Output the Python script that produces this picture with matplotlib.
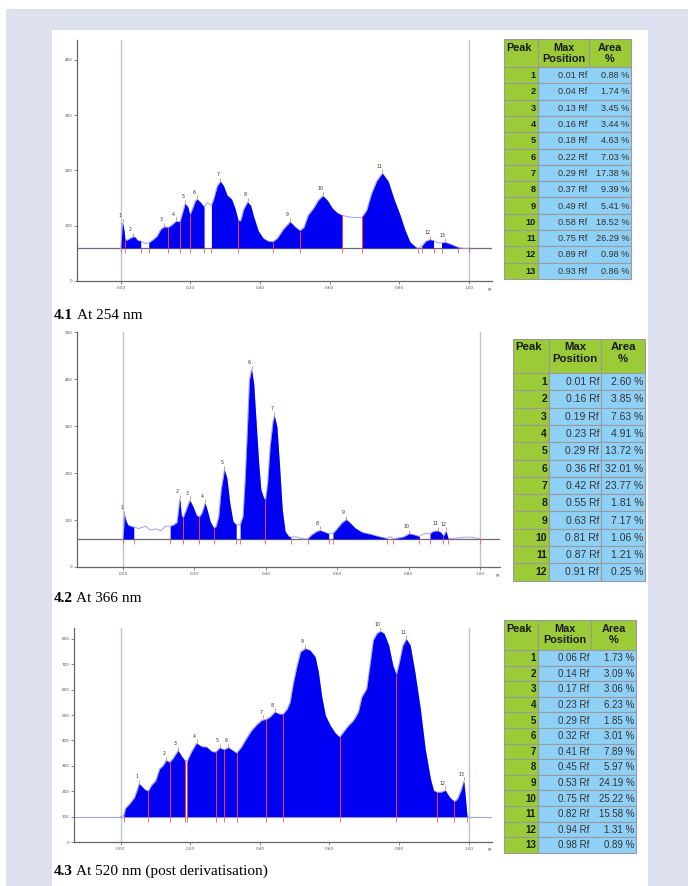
import numpy as np
import matplotlib
matplotlib.use("Agg")
import matplotlib.pyplot as plt
from matplotlib.patches import Rectangle

# ---------------- Chart 4.1 : 254 nm ----------------
rf_254 = [0.000, 0.003, 0.005, 0.009, 0.012, 0.018, 0.026, 0.035, 0.041, 0.047,
          0.057, 0.069, 0.080, 0.093, 0.104, 0.114, 0.124, 0.136, 0.146, 0.158,
          0.170, 0.177, 0.185, 0.193, 0.198, 0.206, 0.214, 0.219, 0.229, 0.239,
          0.248, 0.260, 0.267, 0.277, 0.286, 0.295, 0.305, 0.318, 0.328, 0.337,
          0.344, 0.353, 0.364, 0.373, 0.382, 0.395, 0.409, 0.423, 0.436, 0.449,
          0.466, 0.486, 0.500, 0.514, 0.526, 0.538, 0.555, 0.567, 0.580, 0.593,
          0.608, 0.622, 0.635, 0.653, 0.672, 0.692, 0.706, 0.720, 0.735, 0.751,
          0.768, 0.784, 0.802, 0.816, 0.830, 0.845, 0.854, 0.864, 0.876, 0.888,
          0.898, 0.909, 0.921, 0.931, 0.945, 0.960, 0.969, 0.984, 1.000]
au_254 = [59, 92, 105, 92, 74, 74, 77, 80, 79, 74,
          72, 68, 69, 75, 81, 93, 98, 97, 101, 108,
          107, 123, 140, 133, 119, 131, 145, 148, 142, 134,
          142, 137, 149, 172, 180, 172, 155, 148, 131, 109,
          109, 130, 143, 136, 115, 90, 77, 72, 71, 77,
          93, 107, 98, 91, 97, 119, 133, 146, 154, 146,
          131, 123, 119, 116, 115, 115, 128, 158, 181, 195,
          180, 149, 119, 92, 71, 62, 59, 63, 72, 75,
          73, 69, 69, 70, 67, 63, 61, 59, 59]
regions_254 = [(0.000, 0.057), (0.080, 0.239), (0.260, 0.635), (0.692, 0.854),
               (0.864, 0.898), (0.921, 0.969)]
ticks_254 = [0.000, 0.012, 0.057, 0.080, 0.136, 0.170, 0.198, 0.239, 0.260, 0.337,
             0.436, 0.514, 0.635, 0.692, 0.854, 0.864, 0.898, 0.921, 0.969, 1.000]
splits_254 = [0.012, 0.136, 0.170, 0.198, 0.337, 0.436, 0.514, 0.635, 0.692]
peak_rf_254 = [0.005, 0.035, 0.124, 0.158, 0.185, 0.219, 0.286, 0.364, 0.486, 0.580,
               0.751, 0.888, 0.931]
peak_au_254 = [105, 80, 98, 108, 140, 148, 180, 143, 107, 154, 195, 75, 70]
tab_pos_254 = [0.01, 0.04, 0.13, 0.16, 0.18, 0.22, 0.29, 0.37, 0.49, 0.58, 0.75, 0.89, 0.93]
tab_area_254 = [0.88, 1.74, 3.45, 3.44, 4.63, 7.03, 17.38, 9.39, 5.41, 18.52, 26.29, 0.98, 0.86]

# ---------------- Chart 4.2 : 366 nm ----------------
rf_366 = [0.000, 0.004, 0.007, 0.013, 0.021, 0.030, 0.044, 0.063, 0.076, 0.093,
          0.106, 0.118, 0.132, 0.142, 0.151, 0.159, 0.163, 0.168, 0.177, 0.187,
          0.196, 0.205, 0.213, 0.221, 0.230, 0.237, 0.244, 0.254, 0.261, 0.268,
          0.275, 0.284, 0.291, 0.299, 0.308, 0.317, 0.322, 0.328, 0.336, 0.342,
          0.349, 0.354, 0.360, 0.366, 0.373, 0.380, 0.386, 0.394, 0.399, 0.405,
          0.412, 0.420, 0.424, 0.431, 0.438, 0.446, 0.454, 0.464, 0.470, 0.487,
          0.506, 0.517, 0.529, 0.543, 0.552, 0.566, 0.576, 0.582, 0.588, 0.599,
          0.613, 0.625, 0.636, 0.650, 0.669, 0.692, 0.716, 0.739, 0.748, 0.757,
          0.771, 0.785, 0.802, 0.818, 0.830, 0.838, 0.851, 0.860, 0.869, 0.881,
          0.890, 0.897, 0.905, 0.911, 0.935, 0.972, 1.000]
au_366 = [60, 111, 101, 90, 87, 85, 82, 87, 79, 81,
          77, 87, 87, 90, 95, 145, 111, 104, 122, 142,
          129, 111, 106, 115, 136, 118, 97, 83, 87, 108,
          165, 207, 189, 136, 97, 90, 90, 90, 108, 186,
          306, 399, 421, 391, 306, 221, 165, 147, 143, 179,
          257, 310, 322, 299, 221, 122, 76, 65, 64, 64,
          60, 60, 69, 76, 78, 74, 71, 72, 72, 81,
          94, 101, 94, 83, 74, 70, 65, 61, 65, 60,
          62, 64, 71, 68, 65, 69, 72, 71, 76, 77,
          74, 66, 76, 60, 62, 64, 60]
regions_366 = [(0.000, 0.030), (0.132, 0.317), (0.328, 0.470), (0.517, 0.576),
               (0.588, 0.739), (0.757, 0.830), (0.860, 0.911)]
ticks_366 = [0.000, 0.030, 0.132, 0.168, 0.213, 0.254, 0.317, 0.328, 0.399, 0.470,
             0.517, 0.576, 0.588, 0.739, 0.757, 0.830, 0.860, 0.897, 0.911, 1.000]
splits_366 = [0.168, 0.213, 0.254, 0.399, 0.897]
peak_rf_366 = [0.004, 0.159, 0.187, 0.230, 0.284, 0.360, 0.424, 0.552, 0.625, 0.802,
               0.881, 0.905]
peak_au_366 = [111, 145, 142, 136, 207, 421, 322, 78, 101, 71, 77, 76]
tab_pos_366 = [0.01, 0.16, 0.19, 0.23, 0.29, 0.36, 0.42, 0.55, 0.63, 0.81, 0.87, 0.91]
tab_area_366 = [2.60, 3.85, 7.63, 4.91, 13.72, 32.01, 23.77, 1.81, 7.17, 1.06, 1.21, 0.25]

# ---------------- Chart 4.3 : 520 nm ----------------
rf_520 = [0.000, 0.009, 0.014, 0.026, 0.040, 0.047, 0.053, 0.060, 0.069, 0.079,
          0.088, 0.101, 0.112, 0.122, 0.131, 0.141, 0.151, 0.165, 0.175, 0.184,
          0.192, 0.203, 0.218, 0.232, 0.247, 0.261, 0.273, 0.285, 0.297, 0.309,
          0.319, 0.333, 0.347, 0.362, 0.376, 0.391, 0.406, 0.418, 0.429, 0.443,
          0.456, 0.467, 0.479, 0.487, 0.496, 0.506, 0.517, 0.530, 0.544, 0.559,
          0.568, 0.578, 0.588, 0.602, 0.616, 0.629, 0.640, 0.655, 0.669, 0.683,
          0.693, 0.707, 0.717, 0.726, 0.736, 0.746, 0.757, 0.770, 0.782, 0.792,
          0.801, 0.811, 0.821, 0.832, 0.846, 0.861, 0.875, 0.890, 0.899, 0.909,
          0.920, 0.933, 0.945, 0.959, 0.968, 0.978, 0.986, 0.990, 0.995, 1.000]
au_520 = [100, 104, 133, 150, 176, 203, 229, 220, 207, 200,
          222, 242, 288, 301, 321, 314, 330, 360, 338, 321,
          321, 354, 389, 376, 374, 357, 354, 371, 363, 372,
          363, 350, 374, 409, 439, 462, 480, 483, 492, 512,
          504, 504, 525, 551, 624, 689, 749, 762, 755, 729,
          670, 571, 499, 459, 430, 413, 433, 459, 479, 512,
          571, 604, 703, 795, 821, 830, 821, 775, 696, 657,
          709, 775, 799, 775, 664, 525, 367, 249, 203, 196,
          196, 203, 176, 159, 170, 203, 239, 183, 104, 100]
regions_520 = [(0.009, 0.184), (0.192, 0.995)]
ticks_520 = [0.009, 0.079, 0.141, 0.184, 0.192, 0.273, 0.297, 0.333, 0.418, 0.467,
             0.629, 0.792, 0.909, 0.959, 0.995]
splits_520 = [0.079, 0.141, 0.184, 0.192, 0.273, 0.297, 0.333, 0.418, 0.467,
              0.629, 0.792, 0.909, 0.959]
peak_rf_520 = [0.053, 0.131, 0.165, 0.218, 0.285, 0.309, 0.410, 0.443, 0.530, 0.746,
               0.821, 0.933, 0.986]
peak_au_520 = [229, 321, 360, 389, 371, 372, 483, 512, 762, 830, 799, 203, 239]
tab_pos_520 = [0.06, 0.14, 0.17, 0.23, 0.29, 0.32, 0.41, 0.45, 0.53, 0.75, 0.82, 0.94, 0.98]
tab_area_520 = [1.73, 3.09, 3.06, 6.23, 1.85, 3.01, 7.89, 5.97, 24.19, 25.22, 15.58, 1.31, 0.89]

x_ticks = [0.0, 0.2, 0.4, 0.6, 0.8, 1.0]
x_ticklabels = ["0.00", "0.20", "0.40", "0.60", "0.80", "1.00"]

captions = [("4.1", "At 254 nm"), ("4.2", "At 366 nm"), ("4.3", "At 520 nm (post derivatisation)")]

# ---------------- figure ----------------
W, H = 688, 886
fig = plt.figure(figsize=(W / 100, H / 100), dpi=100)
fig.patch.set_facecolor("white")
bg = fig.add_axes([0, 0, 1, 1])
bg.set_xlim(0, W)
bg.set_ylim(H, 0)
bg.axis("off")
bg.set_zorder(0)
bg.add_patch(Rectangle((6, 9), W - 6, H - 9, facecolor="#dde1ef", edgecolor="none"))
bg.add_patch(Rectangle((52, 30), 596, H - 30, facecolor="white", edgecolor="none"))


def px_rect(l, t, r, b):
    return [l / W, 1 - b / H, (r - l) / W, (b - t) / H]


def chart(box, xlim, ylim, yticks, rf, au, base, regions, ticks_b, splits,
          pk_rf, pk_au, base_color):
    ax = fig.add_axes(px_rect(*box))
    ax.set_zorder(1)
    ax.set_facecolor("none")
    ax.set_xlim(*xlim)
    ax.set_ylim(*ylim)
    rf = np.asarray(rf, float)
    au = np.asarray(au, float)
    upp = (ylim[1] - ylim[0]) / (box[3] - box[1])
    xupp = (xlim[1] - xlim[0]) / (box[2] - box[0])
    ax.axvline(0, color="#b8c8d4", lw=1.0, zorder=1)
    ax.axvline(1, color="#b8c8d4", lw=1.0, zorder=1)
    ax.axhline(base, color=base_color, lw=0.9, zorder=2)
    ax.plot(rf, au, color="#a0a0ee", lw=0.7, zorder=3)
    for a, b in regions:
        m = (rf >= a - 1e-9) & (rf <= b + 1e-9)
        ax.fill_between(rf[m], base, au[m], color="#0000f2", lw=0, zorder=4)
    sp = np.asarray(splits, float)
    ax.vlines(sp, base, np.interp(sp, rf, au), color="#ff3a3a", lw=0.7, zorder=5)
    ax.vlines(ticks_b, base - 5 * upp, base, color="#ff5a5a", lw=0.6, zorder=5)
    pr = np.asarray(pk_rf, float)
    pa = np.asarray(pk_au, float)
    ax.vlines(pr, pa + 1 * upp, pa + 4 * upp, color="#ff6a6a", lw=0.6, zorder=5)
    for i, (x, y) in enumerate(zip(pr, pa)):
        ax.text(x - 2.5 * xupp, y + 4.5 * upp, str(i + 1), fontsize=3.4, ha="center",
                va="bottom", color="#333333", zorder=6)
    for s in ["top", "right"]:
        ax.spines[s].set_visible(False)
    for s in ["left", "bottom"]:
        ax.spines[s].set_color("#666666")
        ax.spines[s].set_linewidth(0.9)
    ax.set_xticks(x_ticks)
    ax.set_xticklabels(x_ticklabels)
    ax.set_yticks(yticks)
    ax.set_yticklabels([str(v) for v in yticks])
    ax.tick_params(length=2, width=0.5, labelsize=3, colors="#555555", pad=1.5)
    ax.text(0.995, -0.03, "Rf", transform=ax.transAxes, fontsize=3, color="#555555",
            ha="center", va="top")
    return ax


chart((77, 40, 492, 281), (-0.126, 1.066), (0, 436), [0, 100, 200, 300, 400],
      rf_254, au_254, 60, regions_254, ticks_254, splits_254, peak_rf_254, peak_au_254,
      "#6a6a78")
chart((77, 332, 500, 567), (-0.129, 1.056), (0, 501), [0, 100, 200, 300, 400, 500],
      rf_366, au_366, 60, regions_366, ticks_366, splits_366, peak_rf_366, peak_au_366,
      "#6a6a78")
chart((74, 628, 492, 842), (-0.134, 1.067), (0, 843),
      [0, 100, 200, 300, 400, 500, 600, 700, 800],
      rf_520, au_520, 100, regions_520, ticks_520, splits_520, peak_rf_520, peak_au_520,
      "#a8a8dc")


def table(cols, top, hdr_bot, row_h, pos, area, fs_val, fs_hdr, midline=False):
    green = "#9bcb36"
    blue = "#8fd0f7"
    edge = "#9a9a9a"
    for j in range(3):
        bg.add_patch(Rectangle((cols[j], top), cols[j + 1] - cols[j], hdr_bot - top,
                               facecolor=green, edgecolor=edge, lw=0.8))
    bg.text(cols[0] + 2.5, top + 3.5, "Peak", fontfamily="Liberation Sans", fontweight="bold",
            fontsize=fs_hdr, va="top", ha="left", color="#1a1a1a")
    bg.text((cols[1] + cols[2]) / 2, top + 3.5, "Max\nPosition", fontfamily="Liberation Sans",
            fontweight="bold", fontsize=fs_hdr, va="top", ha="center", linespacing=1.2,
            color="#1a1a1a")
    bg.text((cols[2] + cols[3]) / 2, top + 3.5, "Area\n%", fontfamily="Liberation Sans",
            fontweight="bold", fontsize=fs_hdr, va="top", ha="center", linespacing=1.2,
            color="#1a1a1a")
    for i, (p, a) in enumerate(zip(pos, area)):
        y0 = hdr_bot + i * row_h
        bg.add_patch(Rectangle((cols[0], y0), cols[1] - cols[0], row_h, facecolor=green,
                               edgecolor=edge, lw=0.8))
        bg.add_patch(Rectangle((cols[1], y0), cols[3] - cols[1], row_h, facecolor=blue,
                               edgecolor=edge, lw=0.8))
        if midline:
            bg.plot([cols[2], cols[2]], [y0, y0 + row_h], color=edge, lw=0.8)
        yc = y0 + row_h / 2 + 0.5
        bg.text(cols[1] - 2, yc, str(i + 1), fontfamily="Liberation Sans", fontweight="bold",
                fontsize=fs_val, ha="right", va="center", color="#1a1a1a")
        bg.text(cols[2] - 2, yc, f"{p:.2f} Rf", fontfamily="Liberation Sans",
                fontsize=fs_val, ha="right", va="center", color="#333333")
        bg.text(cols[3] - 1.5, yc, f"{a:.2f} %", fontfamily="Liberation Sans",
                fontsize=fs_val, ha="right", va="center", color="#333333")


table([504, 538, 589, 631], 39, 67, 16.3, tab_pos_254, tab_area_254, 6.6, 7.8)
table([513, 549, 601, 645], 339, 373, 17.3, tab_pos_366, tab_area_366, 7.5, 8.2, midline=True)
table([504, 538, 591, 636], 620, 650, 15.6, tab_pos_520, tab_area_520, 7.0, 7.8)

renderer = fig.canvas.get_renderer()
for (num, rest), yb in zip(captions, [319, 602.5, 875]):
    t = bg.text(54, yb, num, fontfamily="Liberation Serif", fontweight="bold", fontsize=11,
                va="baseline", ha="left", color="black")
    bb = t.get_window_extent(renderer)
    bg.text(bb.x1 + 3.5, yb, rest, fontfamily="Liberation Serif", fontsize=11,
            va="baseline", ha="left", color="black")

fig.savefig("out.png", dpi=100, facecolor=fig.get_facecolor())
